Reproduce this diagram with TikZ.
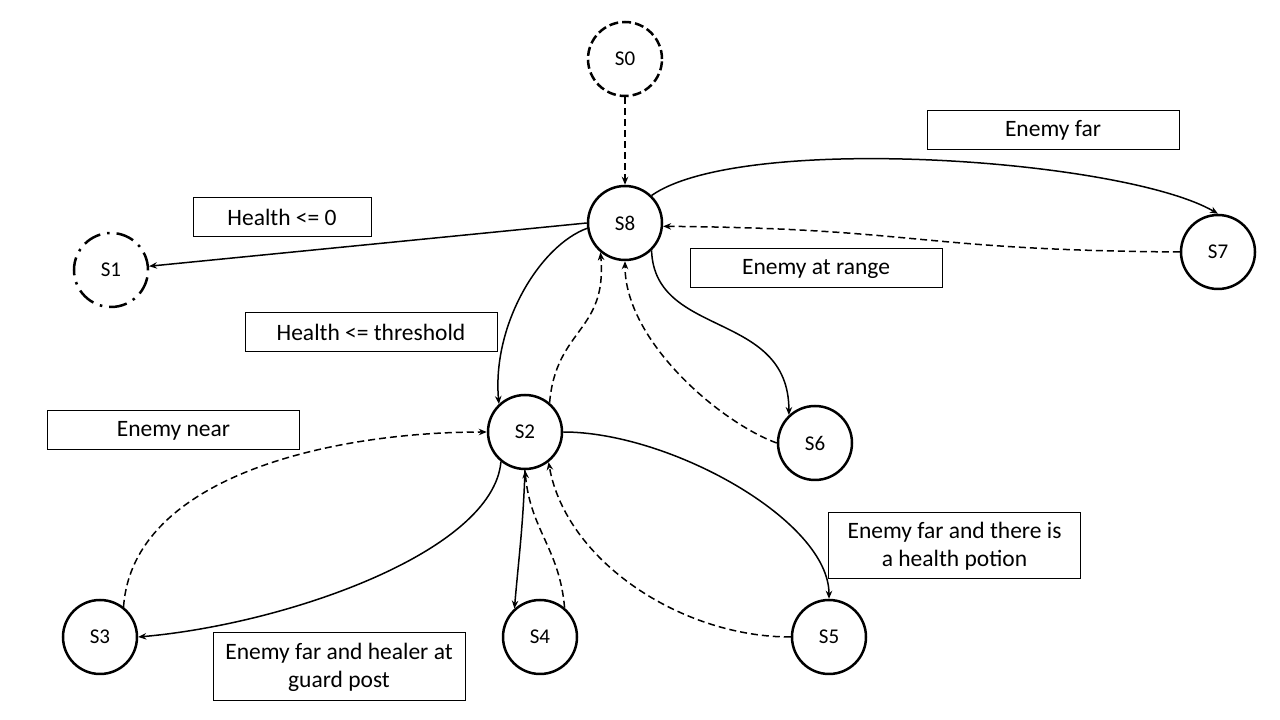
\documentclass[tikz,border=0pt]{standalone}
\usepackage{fontspec}
\setmainfont{Carlito}
\usetikzlibrary{arrows.meta}
\tikzset{
  stateNode/.style={circle,draw=black,line width=2.5pt,minimum size=74pt,inner sep=0pt,font=\fontsize{21}{25}\selectfont},
  startNode/.style={stateNode,dash pattern=on 9pt off 4pt},
  exitNode/.style={stateNode,dash pattern=on 18pt off 7pt on 2.5pt off 7pt},
  condBox/.style={rectangle,draw=black,line width=1pt,minimum width=252pt,minimum height=39pt,inner sep=2pt,align=center,font=\fontsize{23.5}{28}\selectfont},
  goArrow/.style={draw=black,line width=1.5pt,-{Stealth[length=8pt,width=6.5pt]}},
  backArrow/.style={goArrow,dash pattern=on 7pt off 4pt}
}
\begin{document}
\begin{tikzpicture}[x=1pt,y=1pt]
\definecolor{fillColor}{RGB}{255,255,255}
\path[use as bounding box,fill=fillColor] (0,0) rectangle (1280,720);

\node[startNode] (s0) at (625,661) {S0};
\node[stateNode] (s8) at (625,497) {S8};
\node[exitNode] (s1) at (111,450) {S1};
\node[stateNode] (s7) at (1218,468) {S7};
\node[stateNode] (s2) at (525,288) {S2};
\node[stateNode] (s6) at (815,277) {S6};
\node[stateNode] (s3) at (100,83) {S3};
\node[stateNode] (s4) at (540,83) {S4};
\node[stateNode] (s5) at (829,83) {S5};

\node[condBox] (far) at (1053,589.5) {Enemy far};
\node[condBox,minimum width=178pt] (dead) at (282,502.5) {Health <= 0};
\node[condBox] (range) at (816,451.5) {Enemy at range};
\node[condBox] (low) at (371,387.5) {Health <= threshold};
\node[condBox] (near) at (173.5,289.5) {Enemy near};
\node[condBox,minimum height=66pt] (potion) at (954.5,174) {Enemy far and there is\\a health potion};
\node[condBox,minimum height=68pt] (healer) at (339,53) {Enemy far and healer at\\guard post};

\draw[backArrow] (s0) -- (s8);
\draw[goArrow] (s8.west) -- (s1);
\draw[goArrow] (s8.46) .. controls +(35:110) and +(150:110) .. (s7.north);
\draw[backArrow] (s7.west) .. controls +(-265,2) and +(255,-2) .. (s8.-5);
\draw[goArrow] (s8.188) .. controls +(200:50) and +(95:80) .. (s2.133);
\draw[backArrow] (s2.50) .. controls +(85:75) and +(-85:80) .. (s8.230);
\draw[goArrow] (s8.-46) .. controls +(-88:88) and +(90:105) .. (s6.133);
\draw[backArrow] (s6.west) .. controls +(160:60) and +(-90:80) .. (s8.south);
\draw[goArrow] (s2.east) .. controls +(0:107) and +(90:78) .. (s5.north);
\draw[backArrow] (s5.west) .. controls +(180:110) and +(-80:100) .. (s2.-52);
\draw[goArrow] (s2.-129) .. controls +(-95:90) and +(5:150) .. (s3.east);
\draw[backArrow] (s3.52) .. controls +(86:130) and +(180:157) .. (s2.west);
\draw[goArrow] (s2.south) .. controls +(-92:55) and +(85:55) .. (s4.132);
\draw[backArrow] (s4.50) .. controls +(95:60) and +(-85:60) .. (s2.south);
\end{tikzpicture}
\end{document}
